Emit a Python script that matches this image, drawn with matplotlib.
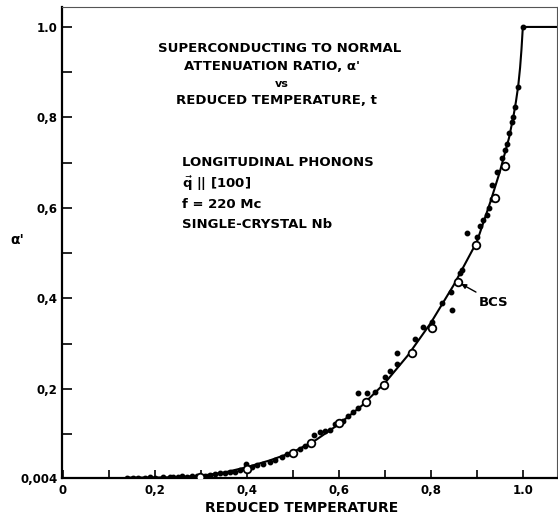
import numpy as np
import matplotlib.pyplot as plt

# Data section

# smooth curve through the data, normal state for t > 1
curve_t = [0.14, 0.2, 0.25, 0.3, 0.35, 0.4, 0.45, 0.5, 0.55, 0.6, 0.65, 0.7,
           0.75, 0.8, 0.85, 0.9, 0.93, 0.95, 0.97, 0.98, 0.985, 0.99, 0.994, 0.997,
           1.0, 1.075]
curve_a = [0.004, 0.004, 0.005, 0.008, 0.015, 0.027, 0.042, 0.06, 0.087, 0.122, 0.163, 0.213,
           0.274, 0.346, 0.43, 0.525, 0.615, 0.68, 0.755, 0.805, 0.835, 0.87, 0.91, 0.95,
           1.0, 1.0]

# measured points (filled dots)
meas_t = [0.139, 0.152, 0.163, 0.178, 0.189, 0.2, 0.217, 0.233, 0.239, 0.25, 0.259, 0.27,
          0.28, 0.291, 0.309, 0.32, 0.33, 0.341, 0.352, 0.363, 0.374, 0.385, 0.398, 0.411,
          0.422, 0.435, 0.45, 0.461, 0.476, 0.487, 0.515, 0.526, 0.546, 0.559, 0.57, 0.58,
          0.591, 0.609, 0.62, 0.63, 0.641, 0.641, 0.661, 0.678, 0.7, 0.711, 0.726, 0.726,
          0.765, 0.783, 0.802, 0.824, 0.843, 0.846, 0.863, 0.867, 0.878, 0.9, 0.907, 0.913,
          0.922, 0.926, 0.933, 0.933, 0.943, 0.954, 0.961, 0.965, 0.97, 0.976, 0.978, 0.983,
          0.989, 1.0]
meas_a = [0.004, 0.004, 0.004, 0.004, 0.005, 0.004, 0.005, 0.005, 0.005, 0.006, 0.007, 0.006,
          0.007, 0.007, 0.0075, 0.0097, 0.012, 0.014, 0.014, 0.016, 0.016, 0.021, 0.034, 0.027,
          0.032, 0.034, 0.038, 0.043, 0.05, 0.057, 0.068, 0.073, 0.097, 0.104, 0.107, 0.11,
          0.123, 0.128, 0.141, 0.15, 0.157, 0.19, 0.19, 0.193, 0.226, 0.24, 0.28, 0.254,
          0.31, 0.336, 0.347, 0.39, 0.414, 0.374, 0.456, 0.463, 0.545, 0.535, 0.56, 0.574,
          0.584, 0.6, 0.62, 0.65, 0.679, 0.71, 0.727, 0.742, 0.766, 0.79, 0.8, 0.823,
          0.867, 1.0]

# BCS theory (open circles)
bcs_t = [0.298, 0.4, 0.5, 0.539, 0.6, 0.659, 0.698, 0.759, 0.802, 0.859, 0.898, 0.939, 0.961]
bcs_a = [0.005, 0.024, 0.059, 0.08, 0.124, 0.172, 0.208, 0.28, 0.334, 0.436, 0.517, 0.623, 0.692]

x_ticks = [0, 0.2, 0.4, 0.6, 0.8, 1.0]
x_labels = ["0", "0,2", "0,4", "0,6", "0,8", "1.0"]
y_ticks = [0.004, 0.2, 0.4, 0.6, 0.8, 1.0]
y_labels = ["0,004", "0,2", "0,4", "0,6", "0,8", "1.0"]

plt.rcParams['font.family'] = ['DejaVu Sans']
plt.rcParams['font.weight'] = 'bold'
plt.rcParams['mathtext.fontset'] = 'dejavusans'

fig = plt.figure(figsize=(5.58, 5.21), dpi=100)
ax = fig.add_axes([0.111, 0.0825, 0.887, 0.904])

ax.plot(curve_t, curve_a, color="black", lw=1.5, zorder=2)
ax.plot(meas_t, meas_a, "o", color="black", ms=3.2, zorder=3)
ax.plot(bcs_t, bcs_a, "o", mfc="white", mec="black", mew=1.3, ms=5.5, zorder=4)

ax.annotate("BCS", xy=(0.866, 0.432), xytext=(0.905, 0.392),
            fontsize=9.5, fontweight="bold", va="center",
            arrowprops=dict(arrowstyle="-|>", color="black", lw=1.0,
                            mutation_scale=7, shrinkA=1, shrinkB=0))

ax.set_xlim(-0.002, 1.074)
ax.set_ylim(0.003, 1.044)
ax.set_xticks(x_ticks)
ax.set_xticklabels(x_labels)
ax.set_xticks([0.1, 0.3, 0.5, 0.7, 0.9], minor=True)
ax.set_yticks(y_ticks)
ax.set_yticklabels(y_labels)
ax.set_yticks([0.1, 0.3, 0.5, 0.7, 0.9], minor=True)
ax.tick_params(axis="x", which="both", direction="in", length=6, width=1.2,
               labelsize=8.5, pad=4)
ax.tick_params(axis="y", which="both", direction="in", length=7, width=1.2,
               labelsize=8.5, pad=3)
for lab in ax.get_xticklabels() + ax.get_yticklabels():
    lab.set_fontweight("bold")

for side in ["left", "bottom"]:
    ax.spines[side].set_linewidth(1.6)
for side in ["top", "right"]:
    ax.spines[side].set_linewidth(0.8)
    ax.spines[side].set_color("#555555")

fig.text(302 / 558, 1 - 508 / 521, "REDUCED TEMPERATURE", ha="center", va="center",
         fontsize=10, fontweight="bold")
fig.text(17 / 558, 1 - 240 / 521, "α'", ha="center", va="center",
         fontsize=10, fontweight="bold")

# title block
title_lines = [("SUPERCONDUCTING TO NORMAL", 280, 48),
               ("ATTENUATION RATIO, α'", 272, 67),
               ("vs", 282, 84),
               ("REDUCED TEMPERATURE, t", 276, 101)]
for txt, px, py in title_lines:
    fs = 8 if txt == "vs" else 9.5
    fig.text(px / 558, 1 - py / 521, txt, ha="center", va="center",
             fontsize=fs, fontweight="bold")

info_lines = [("LONGITUDINAL PHONONS", 163),
              (r"$\vec{\mathbf{q}}$ || [100]", 184),
              ("f = 220 Mc", 204),
              ("SINGLE-CRYSTAL Nb", 225)]
for txt, py in info_lines:
    fig.text(182 / 558, 1 - py / 521, txt, ha="left", va="center",
             fontsize=9.5, fontweight="bold")

fig.savefig("out.png", dpi=100)
